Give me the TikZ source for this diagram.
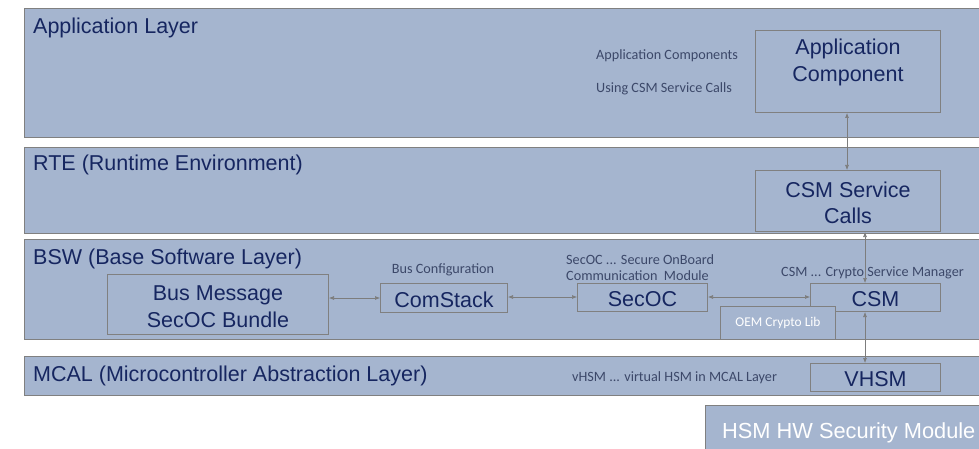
\documentclass[tikz,border=0pt]{standalone}
\usepackage{fontspec}
\setmainfont{Liberation Sans}
\newfontfamily\smallfont{Carlito}
\usetikzlibrary{arrows.meta}
\definecolor{bandfill}{RGB}{165,181,207}
\definecolor{bordergray}{RGB}{128,128,128}
\definecolor{navy}{RGB}{22,38,96}
\definecolor{smalltext}{RGB}{60,72,105}
\definecolor{arrowgray}{RGB}{125,125,125}
\tikzset{
  band/.style={draw=bordergray, line width=0.9pt, fill=bandfill},
  boxtext/.style={inner sep=0pt, text=navy, font=\fontsize{21.5}{26.5}\selectfont, align=center, yshift=-2pt},
  boxframe/.style={draw=bordergray, line width=1pt, fill=bandfill, inner sep=0pt},
  box/.style={boxframe, label={[boxtext]center:#1}},
  layertitle/.style={anchor=west, inner sep=0pt, text=navy, font=\fontsize{21.5}{26}\selectfont},
  note/.style={inner sep=0pt, text=smalltext, font=\smallfont\fontsize{14.2}{16}\selectfont, align=left},
  conn/.style={draw=arrowgray, line width=0.6pt, {Latex[length=5pt,width=4pt]}-{Latex[length=5pt,width=4pt]}}
}
\begin{document}
\begin{tikzpicture}[x=1pt,y=-1pt]
\path[use as bounding box] (0,0) rectangle (979,449);
\clip (0,0) rectangle (979,449);
% layers
\draw[band] (24,8) rectangle (1000,137);
\draw[band] (24,147) rectangle (1000,233);
\draw[band] (24,239) rectangle (1000,339);
\draw[band] (24,356) rectangle (1000,395);
\node[layertitle] (tapp) at (33,27.5) {Application Layer};
\node[layertitle] (trte) at (33,165) {RTE (Runtime Environment)};
\node[layertitle] (tbsw) at (33,259) {BSW (Base Software Layer)};
\node[layertitle] (tmcal) at (33,376) {MCAL (Microcontroller Abstraction Layer)};
% HSM
\draw[band] (705,405) rectangle (1000,460);
\node[anchor=west, inner sep=0pt, text=white, font=\fontsize{21.8}{26}\selectfont] (hsm) at (722,433) {HSM HW Security Module};
% boxes
\node[boxframe, label={[boxtext, yshift=11pt]center:Application\\Component}, minimum width=185pt, minimum height=82pt, anchor=north west] (appc) at (755,30) {};
\node[box={CSM Service\\Calls}, minimum width=185pt, minimum height=61pt, anchor=north west] (csc) at (755,170) {};
\node[box={Bus Message\\SecOC Bundle}, minimum width=221pt, minimum height=60pt, anchor=north west] (bus) at (107,274) {};
\node[box={ComStack}, minimum width=127pt, minimum height=29pt, anchor=north west] (com) at (380,283) {};
\node[box={SecOC}, minimum width=130pt, minimum height=28pt, anchor=north west] (secoc) at (577,283) {};
\node[box={CSM}, minimum width=130pt, minimum height=28pt, anchor=north west] (csm) at (810,283) {};
\node[boxframe, minimum width=115pt, minimum height=33pt, anchor=north west, text=white, font=\smallfont\fontsize{13.4}{15}\selectfont] (oem) at (720,306) {OEM Crypto Lib};
\node[box={VHSM}, minimum width=130pt, minimum height=28pt, anchor=north west] (vhsm) at (810,363) {};
% notes
\node[note, anchor=west] (n1) at (596,55.5) {Application Components};
\node[note, anchor=west] (n2) at (596,88.5) {Using CSM Service Calls};
\node[note, anchor=center] (n3) at (443,269.5) {Bus Configuration};
\node[note, anchor=west] (n4) at (566,267.5) {SecOC ... Secure OnBoard\\Communication\ \ Module};
\node[note, anchor=west] (n5) at (781,272.5) {CSM ... Crypto Service Manager};
\node[note, anchor=west] (n6) at (572,378) {vHSM ... virtual HSM in MCAL Layer};
% connectors
\draw[conn] (appc.south -| 847,0) -- (csc.north -| 847,0);
\draw[conn] (csc.south -| 865,0) -- (csm.north -| 865,0);
\draw[conn] (csm.south -| 865,0) -- (vhsm.north -| 865,0);
\draw[conn] (bus.east |- 0,298) -- (com.west |- 0,298);
\draw[conn] (com.east |- 0,297) -- (secoc.west |- 0,297);
\draw[conn] (secoc.east |- 0,297) -- (csm.west |- 0,297);
\end{tikzpicture}
\end{document}
